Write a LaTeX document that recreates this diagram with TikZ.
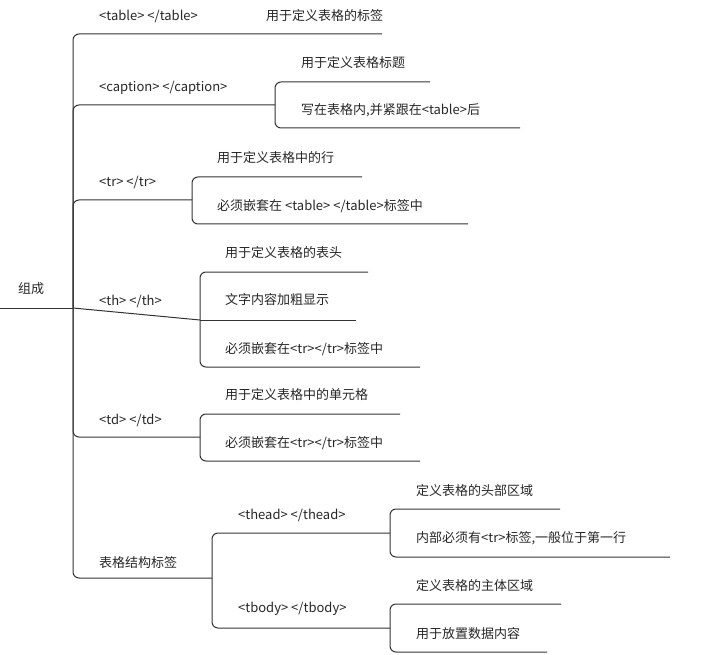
\documentclass[tikz,border=0pt]{standalone}
\usepackage{fontspec}
\setmainfont{Noto Sans CJK SC}
\begin{document}
\begin{tikzpicture}[x=1pt,y=-1pt,
  lbl/.style={anchor=west,inner sep=0pt,font=\fontsize{13}{15}\selectfont,text=black!85},
  br/.style={draw=black!80,line width=1pt,rounded corners=6pt}]
\useasboundingbox (0,0) rectangle (704,655);
% junctions
\coordinate (r) at (73,308);
\coordinate (jc) at (275,105);
\coordinate (jtr) at (192,200);
\coordinate (jth) at (200,320);
\coordinate (jtd) at (200,437);
\coordinate (js) at (212,578);
\coordinate (jh) at (390,533);
\coordinate (jb) at (390,628);
% root
\coordinate (r0) at (0,308);
\draw[br] (r0) -- (r);
\draw[br] (r) |- (382,34);
\draw[br] (r) |- (jc);
\draw[br] (r) |- (jtr);
\draw[br] (r) -- (jth);
\draw[br] (r) |- (jtd);
\draw[br] (r) |- (js);
% caption
\draw[br] (jc) |- (430,82);
\draw[br] (jc) |- (520,128);
% tr
\draw[br] (jtr) |- (362,177);
\draw[br] (jtr) |- (468,224);
% th
\draw[br] (jth) |- (368,272);
\draw[br] (jth) -- (356,320);
\draw[br] (jth) |- (420,367);
% td
\draw[br] (jtd) |- (400,414);
\draw[br] (jtd) |- (420,461);
% structure
\draw[br] (js) |- (jh);
\draw[br] (js) |- (jb);
\draw[br] (jh) |- (560,509);
\draw[br] (jh) |- (670,557);
\draw[br] (jb) |- (561,604);
\draw[br] (jb) |- (547,652);
% labels
\node[lbl] (n0) at (18,289) {组成};
\node[lbl] (n1) at (99,16) {<table> </table>};
\node[lbl] (n1a) at (266,16) {用于定义表格的标签};
\node[lbl] (n2) at (99,88) {<caption> </caption>};
\node[lbl] (n2a) at (301,63) {用于定义表格标题};
\node[lbl] (n2b) at (301,110) {写在表格内,并紧跟在<table>后};
\node[lbl] (n3) at (99,183) {<tr> </tr>};
\node[lbl] (n3a) at (217,158) {用于定义表格中的行};
\node[lbl] (n3b) at (217,206) {必须嵌套在 <table> </table>标签中};
\node[lbl] (n4) at (99,301) {<th> </th>};
\node[lbl] (n4a) at (225,253) {用于定义表格的表头};
\node[lbl] (n4b) at (225,300) {文字内容加粗显示};
\node[lbl] (n4c) at (225,349) {必须嵌套在<tr></tr>标签中};
\node[lbl] (n5) at (99,420) {<td> </td>};
\node[lbl] (n5a) at (225,395) {用于定义表格中的单元格};
\node[lbl] (n5b) at (225,443) {必须嵌套在<tr></tr>标签中};
\node[lbl] (n6) at (99,563) {表格结构标签};
\node[lbl] (n6a) at (238,515) {<thead> </thead>};
\node[lbl] (n6a1) at (416,491) {定义表格的头部区域};
\node[lbl] (n6a2) at (416,538) {内部必须有<tr>标签,一般位于第一行};
\node[lbl] (n6b) at (238,609) {<tbody> </tbody>};
\node[lbl] (n6b1) at (416,586) {定义表格的主体区域};
\node[lbl] (n6b2) at (416,634) {用于放置数据内容};
\end{tikzpicture}
\end{document}
